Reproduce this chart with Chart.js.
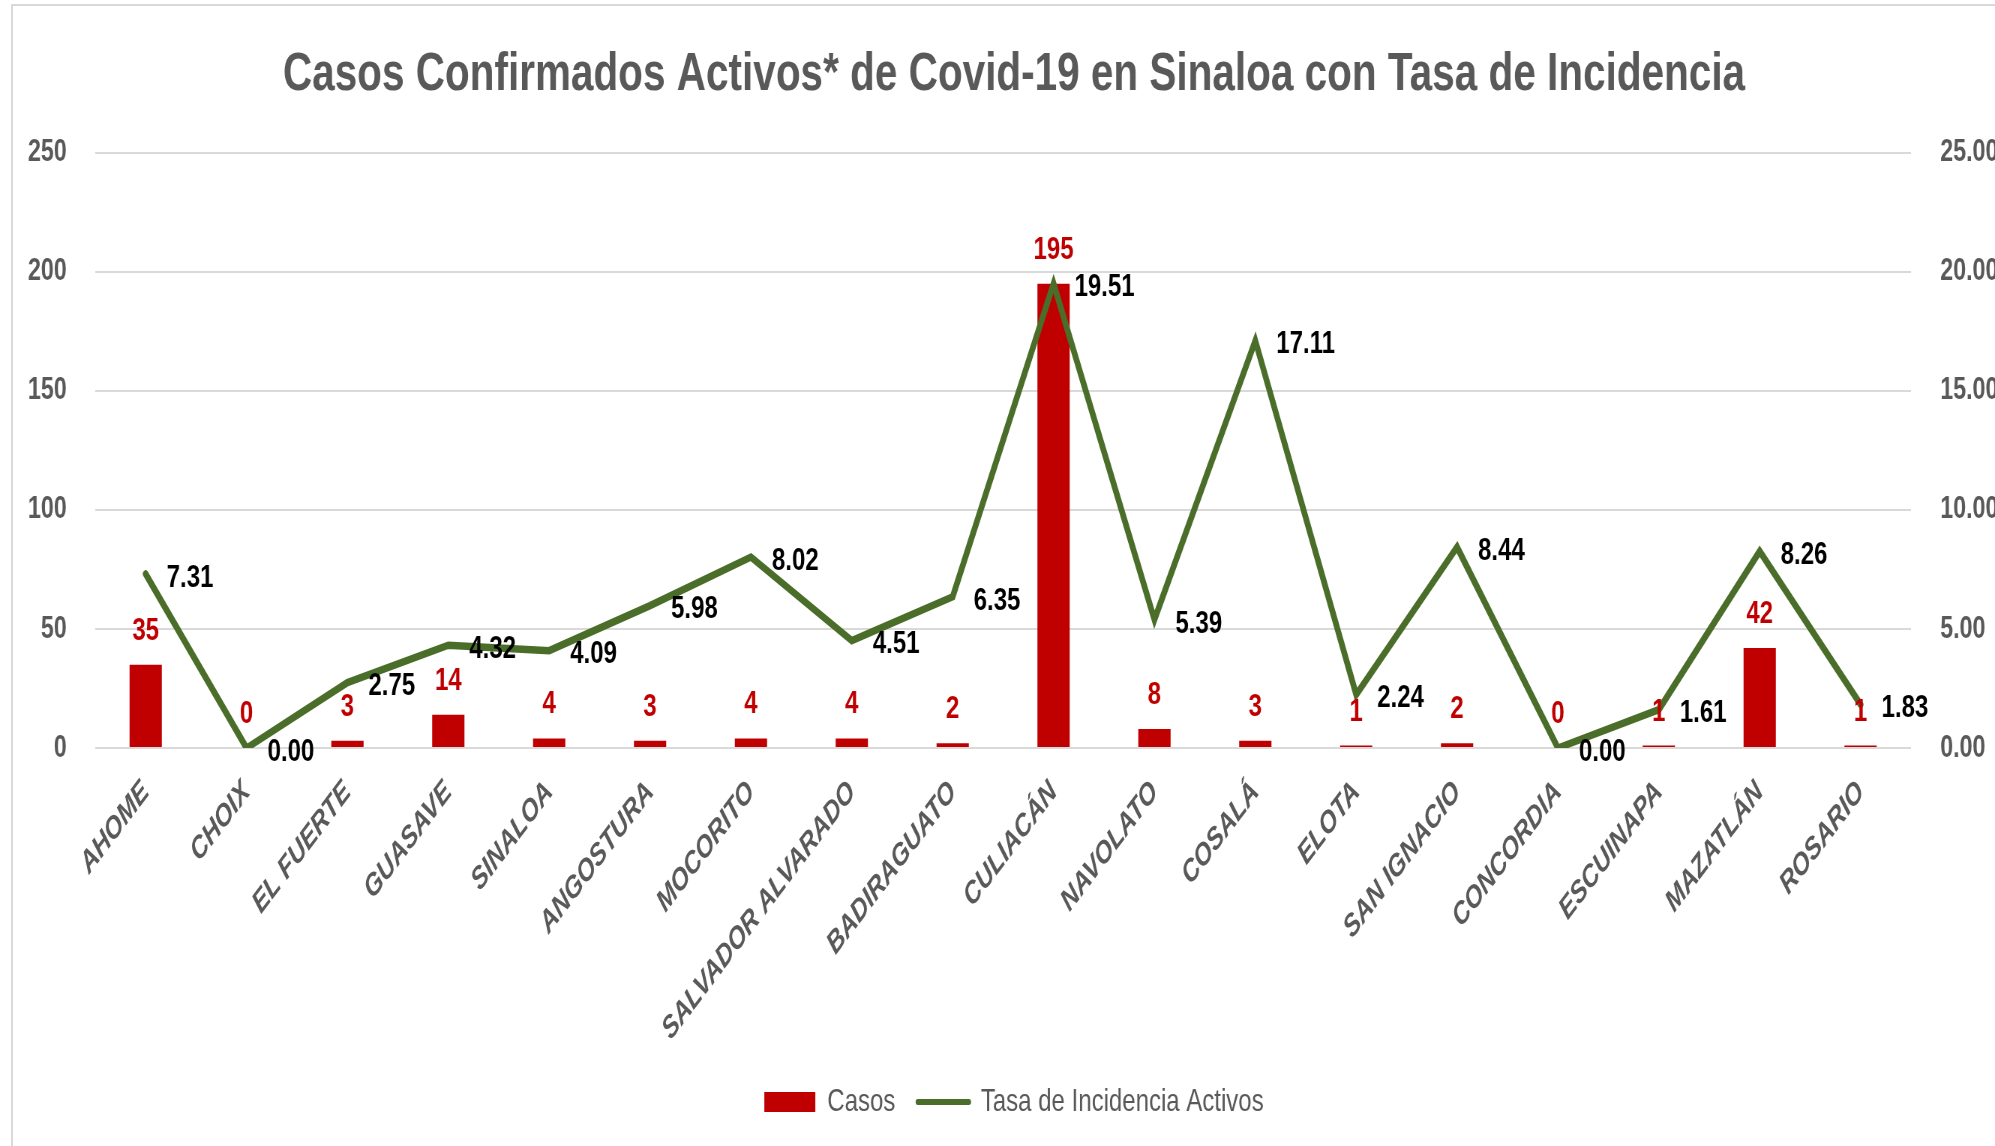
<!DOCTYPE html>
<html><head><meta charset="utf-8">
<script src="https://cdn.jsdelivr.net/npm/chart.js@4.4.0/dist/chart.umd.min.js"></script>
<style>
html,body{margin:0;padding:0;background:#fff;overflow:hidden;width:1995px;height:1146px}
#frame{position:absolute;left:11px;top:4px;width:3000px;height:3000px;border-left:2px solid #d9d9d9;border-top:2px solid #d9d9d9;box-sizing:border-box}
#c{position:absolute;left:12px;top:5px;transform:scaleX(0.75);transform-origin:0 0}
</style></head><body>
<div id="frame"></div>
<canvas id="c" width="2672" height="1141"></canvas>
<script>
const chartTitle = 'Casos Confirmados Activos* de Covid-19 en Sinaloa con Tasa de Incidencia';
const municipios = ['AHOME','CHOIX','EL FUERTE','GUASAVE','SINALOA','ANGOSTURA','MOCORITO','SALVADOR ALVARADO','BADIRAGUATO','CULIACÁN','NAVOLATO','COSALÁ','ELOTA','SAN IGNACIO','CONCORDIA','ESCUINAPA','MAZATLÁN','ROSARIO'];
const casos = [35, 0, 3, 14, 4, 3, 4, 4, 2, 195, 8, 3, 1, 2, 0, 1, 42, 1];
const tasa = [7.31, 0.00, 2.75, 4.32, 4.09, 5.98, 8.02, 4.51, 6.35, 19.51, 5.39, 17.11, 2.24, 8.44, 0.00, 1.61, 8.26, 1.83];
const seriesNames = ['Casos', 'Tasa de Incidencia Activos'];
const casosAxis = {min: 0, max: 250, step: 50};
const tasaAxis = {min: 0, max: 25, step: 5};

const FONT = "'Liberation Sans', Arial, sans-serif";
const GRAY = '#595959';
const RED = '#C00000';
const GREEN = '#4A6E2A';

const labelPlugin = {
  id: 'valueLabels',
  afterDatasetsDraw(chart) {
    const ctx = chart.ctx;
    ctx.save();
    ctx.font = 'bold 32px ' + FONT;
    const barMeta = chart.getDatasetMeta(0);
    ctx.fillStyle = RED;
    ctx.textAlign = 'center';
    ctx.textBaseline = 'alphabetic';
    barMeta.data.forEach((el, i) => ctx.fillText(String(casos[i]), el.x, el.y - 25));
    const lineMeta = chart.getDatasetMeta(1);
    ctx.fillStyle = '#000';
    ctx.textAlign = 'left';
    ctx.textBaseline = 'middle';
    lineMeta.data.forEach((el, i) => ctx.fillText(tasa[i].toFixed(2), el.x + 28, el.y + 4));
    ctx.restore();
  }
};

new Chart(document.getElementById('c'), {
  data: {
    labels: municipios,
    datasets: [
      {type: 'bar', label: seriesNames[0], data: casos, backgroundColor: RED, yAxisID: 'y', order: 2,
       barPercentage: 0.32, categoryPercentage: 1},
      {type: 'line', label: seriesNames[1], data: tasa, borderColor: GREEN, backgroundColor: GREEN, borderWidth: 7.5,
       pointRadius: 0, tension: 0, yAxisID: 'y1', order: 1, borderJoinStyle: 'miter', borderCapStyle: 'round'}
    ]
  },
  options: {
    responsive: false,
    animation: false,
    devicePixelRatio: 1,
    layout: {padding: {left: 0, right: 0, top: 0, bottom: 18}},
    plugins: {
      title: {display: true, text: chartTitle, color: GRAY,
        font: {family: FONT, size: 54, weight: 'bold', lineHeight: 1.2}, padding: {top: 38, bottom: 45}},
      legend: {position: 'bottom',
        labels: {color: GRAY, font: {family: FONT, size: 32}, padding: 30, usePointStyle: true,
          pointStyleWidth: 68, boxHeight: 20,
          generateLabels(chart) {
            return chart.data.datasets.map((ds, i) => ({
              text: ds.label, datasetIndex: i,
              fillStyle: ds.type === 'bar' ? RED : GREEN,
              strokeStyle: ds.type === 'bar' ? RED : GREEN,
              lineWidth: ds.type === 'bar' ? 0 : 6,
              lineCap: 'round',
              pointStyle: ds.type === 'bar' ? 'rect' : 'line',
              fontColor: GRAY, hidden: false
            }));
          }
        }},
      tooltip: {enabled: false}
    },
    scales: {
      x: {
        grid: {display: false}, border: {display: false},
        ticks: {color: GRAY, font: {family: FONT, size: 31, weight: 'bold', style: 'italic'},
          minRotation: 45, maxRotation: 45, padding: 18, autoSkip: false},
        afterFit(s) { s.height = 308; s.paddingLeft = 0; s.paddingRight = 0; }
      },
      y: {
        position: 'left', min: casosAxis.min, max: casosAxis.max,
        grid: {color: '#D9D9D9', lineWidth: 2, drawTicks: false}, border: {display: false},
        ticks: {stepSize: casosAxis.step, color: GRAY, padding: 38, font: {family: FONT, size: 31, weight: 'bold'}},
        afterFit(s) { s.width = 111; }
      },
      y1: {
        position: 'right', min: tasaAxis.min, max: tasaAxis.max,
        grid: {display: false, drawTicks: false}, border: {display: false},
        ticks: {stepSize: tasaAxis.step, color: GRAY, padding: 39, font: {family: FONT, size: 31, weight: 'bold'},
          callback: v => Number(v).toFixed(2)},
        afterFit(s) { s.width = 140; }
      }
    }
  },
  plugins: [labelPlugin]
});
</script>
</body></html>
